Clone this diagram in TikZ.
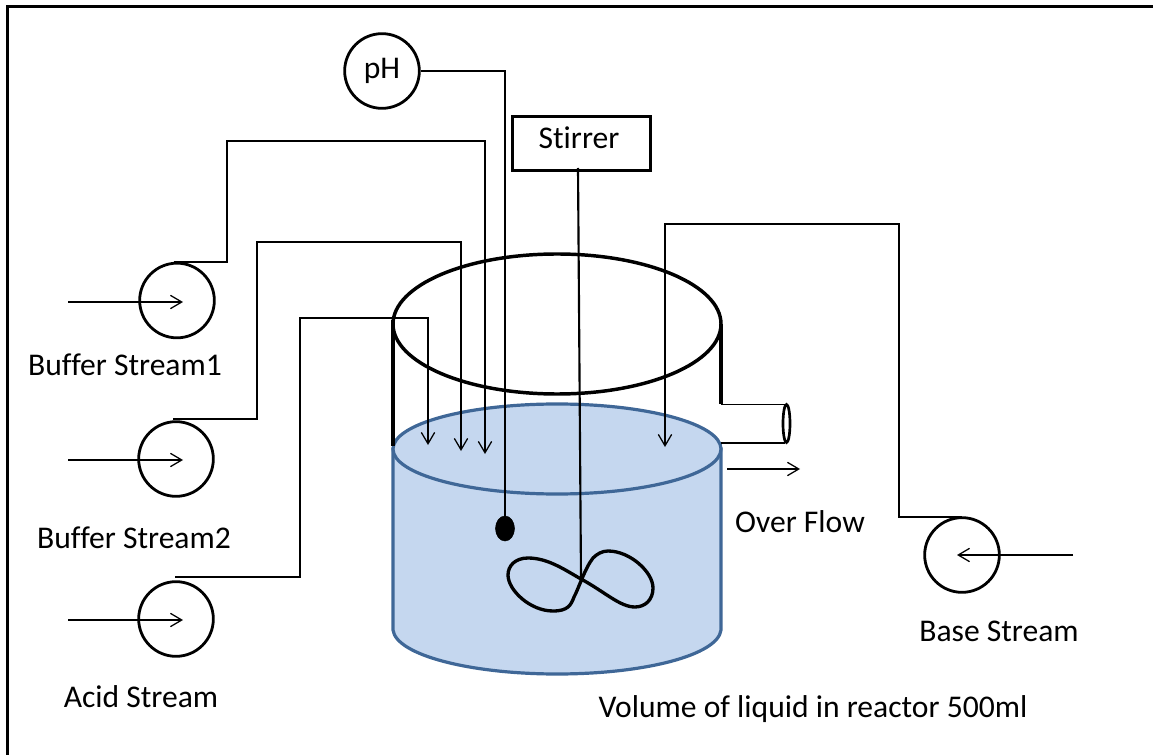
\documentclass[tikz,border=0pt]{standalone}
\usepackage{fontspec}
\setmainfont[RawFeature=-liga]{Carlito}
\usetikzlibrary{arrows.meta}
\definecolor{liquid}{HTML}{C5D7EF}
\definecolor{rim}{HTML}{3F6797}
\tikzset{
  x=0.75pt,y=-0.75pt,
  pipe/.style={draw=black,line width=0.95pt},
  flow/.style={pipe,-{Straight Barb[length=8.5pt,width=10pt,line width=0.95pt]}},
  pump/.style={circle,draw=black,line width=2.1pt,minimum size=56pt,inner sep=0pt},
  lbl/.style={font=\fontsize{23.7pt}{26pt}\selectfont,inner sep=0pt,anchor=center},
  vessel line/.style={draw=black,line width=2.6pt},
  blue vessel/.style={draw=rim,line width=2.4pt}
}
\begin{document}
\begin{tikzpicture}
\useasboundingbox (0,0) rectangle (1153,755);
\draw[line width=2.4pt] (7.7,755) -- (7.7,6.7) -- (1153,6.7);
% liquid
\path[fill=liquid,blue vessel] (393,449) -- (393,630) .. controls (396,655) and (470,674) .. (557,674) .. controls (645,674) and (718,655) .. (721,630) -- (721,449) -- cycle;
\draw[blue vessel,fill=liquid] (557,449) ellipse [x radius=164,y radius=45];
% walls and top
\draw[vessel line] (393,320) -- (393,446);
\draw[vessel line] (721,324) -- (721,404);
\draw[vessel line] (557,324) ellipse [x radius=164,y radius=70];
% overflow
\draw[pipe] (721,404.5) -- (785,404.5);
\draw[pipe] (721,443) -- (785,443);
\draw[line width=2pt,fill=white] (786.5,423.5) ellipse [x radius=3.5,y radius=19];
\coordinate (ofa) at (727,469);
\coordinate (ofb) at (800,469);
\draw[flow] (ofa) -- (ofb);
% pumps
\node[pump] (p1) at (177,300.5) {};
\node[pump] (p2) at (176,459) {};
\node[pump] (p3) at (176,619) {};
\node[pump] (p4) at (962,555) {};
\node[circle,draw=black,line width=2.1pt,minimum size=56pt,inner sep=0pt,lbl] (ph) at (382,71) {pH};
\node[draw=black,line width=2.2pt,minimum width=104pt,minimum height=41pt,inner sep=0pt] (st) at (581.5,143.5) {};
\node[lbl] (stl) at (579,138) {Stirrer};
% inlet arrows
\coordinate (i1) at (68,302); \coordinate (i2) at (68,460); \coordinate (i3) at (68,620); \coordinate (i4) at (1073,555);
\coordinate (e1) at (183,302); \coordinate (e2) at (183,460); \coordinate (e3) at (183,620); \coordinate (e4) at (957,555);
\draw[flow] (i1) -- (e1);
\draw[flow] (i2) -- (e2);
\draw[flow] (i3) -- (e3);
\draw[flow] (i4) -- (e4);
% feed lines
\draw[flow] (174,262) -- (227,262) -- (227,141) -- (485,141) -- (485,454);
\draw[flow] (173,419) -- (257,419) -- (257,242) -- (461,242) -- (461,451);
\draw[flow] (175,577) -- (300,577) -- (300,318) -- (428,318) -- (428,445);
\draw[flow] (962,517) -- (899,517) -- (899,224) -- (665,224) -- (665,447);
% pH probe
\draw[draw=black,line width=1.2pt] (ph.east) -- (505,71) -- (505,525);
\draw[fill=black] (505,528.5) ellipse [x radius=9.5,y radius=12.5];
% stirrer
\draw[line width=1.6pt] (578,168) -- (581,579);
\draw[line width=2.5pt] (581,579) .. controls (565,570) and (548,558) .. (528,558) .. controls (515,558) and (508,566) .. (508,575) .. controls (508,590) and (530,611) .. (553,611) .. controls (568,611) and (571,605) .. (574,597) .. controls (578,590) and (585,568) .. (593,558) .. controls (597,554) and (602,551) .. (608,551) .. controls (630,551) and (653,572) .. (653,588) .. controls (653,600) and (645,607) .. (635,607) .. controls (620,607) and (605,592) .. (581,579) -- cycle;
% labels
\node[lbl] (t1) at (125,365) {Buffer Stream1};
\node[lbl] (t2) at (134,538) {Buffer Stream2};
\node[lbl] (t3) at (141,697) {Acid Stream};
\node[lbl] (t4) at (999,631) {Base Stream};
\node[lbl] (t5) at (800,522) {Over Flow};
\node[lbl] (t6) at (813,709) {Volume of liquid in reactor 500ml};
\end{tikzpicture}
\end{document}
